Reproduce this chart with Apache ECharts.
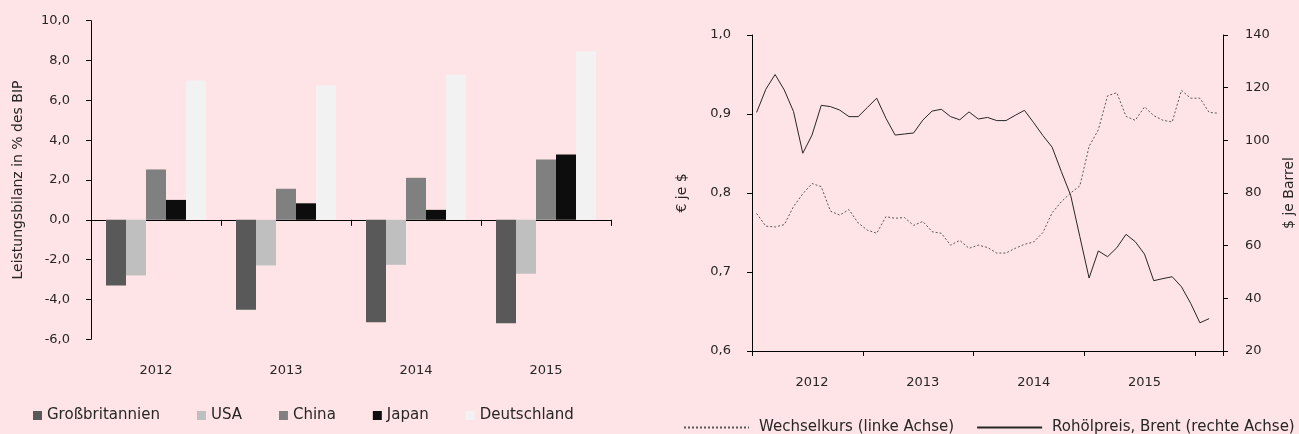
<!DOCTYPE html>
<html>
<head>
<meta charset="utf-8">
<script src="https://cdn.jsdelivr.net/npm/echarts@6/dist/echarts.min.js"></script>
<style>
  html, body { margin: 0; padding: 0; background: #fee4e6; }
  #chart { width: 1299px; height: 434px; }
</style>
</head>
<body>
<div id="chart"></div>
<script>
// left panel: current account balance in % of GDP
const barYears = ['2012', '2013', '2014', '2015']
const countries = ['Großbritannien', 'USA', 'China', 'Japan', 'Deutschland']
const gb = [-3.3, -4.52, -5.14, -5.19]
const usa = [-2.8, -2.29, -2.26, -2.71]
const china = [2.53, 1.56, 2.11, 3.03]
const japan = [1.0, 0.83, 0.5, 3.28]
const germany = [7.0, 6.74, 7.29, 8.47]
const barColors = ['#595959', '#bfbfbf', '#808080', '#0d0d0d', '#f2f2f2']

// right panel: monthly, Jan 2012 .. Mar 2016
const lineYears = ['2012', '2013', '2014', '2015', '2016']
const fxRate = [
  0.774, 0.758, 0.757, 0.760, 0.783, 0.799, 0.812, 0.808, 0.777, 0.772, 0.779, 0.762,
  0.753, 0.749, 0.770, 0.768, 0.769, 0.759, 0.764, 0.751, 0.749, 0.734, 0.740, 0.730,
  0.734, 0.731, 0.724, 0.724, 0.730, 0.735, 0.738, 0.750, 0.775, 0.789, 0.800, 0.809,
  0.859, 0.880, 0.923, 0.927, 0.897, 0.892, 0.909, 0.898, 0.892, 0.890, 0.930, 0.920,
  0.920, 0.902, 0.901
]
const brent = [
  110.6, 119.4, 125.0, 119.1, 110.9, 95.1, 102.0, 113.3, 112.8, 111.5, 109.0, 109.0,
  112.5, 116.0, 108.4, 102.0, 102.4, 102.8, 107.7, 111.1, 111.8, 109.0, 107.8, 110.8,
  108.1, 108.7, 107.5, 107.5, 109.5, 111.4, 106.7, 101.8, 97.4, 88.1, 79.2, 63.4,
  47.7, 58.0, 55.8, 59.2, 64.3, 61.5, 56.8, 46.7, 47.5, 48.2, 44.4, 38.1,
  30.7, 32.3
]
const yTicksLeft = [-6, -4, -2, 0, 2, 4, 6, 8, 10]

const months = []
lineYears.forEach(y => {
  for (let m = 1; m <= 12; m++) months.push(y + '-' + String(m).padStart(2, '0'))
})
months.length = fxRate.length

const txt = '#262626'
const font = 'DejaVu Sans'
const comma = v => v.toFixed(1).replace('.', ',')

const chart = echarts.init(document.getElementById('chart'))

const barSeries = [gb, usa, china, japan, germany].map((d, i) => ({
  name: countries[i],
  type: 'bar',
  xAxisIndex: 0,
  yAxisIndex: 0,
  data: d,
  barWidth: 20,
  barGap: '0%',
  itemStyle: { color: barColors[i] }
}))

chart.setOption({
  animation: false,
  backgroundColor: '#fee4e6',
  textStyle: { fontFamily: font, color: txt },
  grid: [
    { left: 91, top: 20.7, width: 520, height: 318.6 },
    { left: 752, top: 35, width: 471, height: 316 }
  ],
  legend: [
    {
      data: countries,
      left: 33, top: 408, padding: 0,
      icon: 'rect', itemWidth: 9, itemHeight: 9, itemGap: 37,
      textStyle: { fontSize: 15, color: txt, fontFamily: font }
    },
    {
      data: ['Wechselkurs (linke Achse)', 'Rohölpreis, Brent (rechte Achse)'],
      left: 683, top: 420, padding: 0,
      itemWidth: 65, itemHeight: 10, itemGap: 22,
      itemStyle: { opacity: 0 },
      textStyle: { fontSize: 15, color: txt, fontFamily: font, padding: [0, 0, 0, 5] }
    }
  ],
  xAxis: [
    {
      type: 'category', gridIndex: 0, data: barYears,
      axisLine: { onZero: true, lineStyle: { color: '#000', width: 1 } },
      axisTick: { show: true, length: 6, lineStyle: { color: '#000' } },
      axisLabel: { show: false }
    },
    {
      type: 'category', gridIndex: 0, data: barYears, position: 'bottom',
      axisLine: { show: false }, axisTick: { show: false },
      axisLabel: { color: txt, fontSize: 13, margin: 25, fontFamily: font }
    },
    {
      type: 'category', gridIndex: 1, data: months, boundaryGap: true,
      axisLine: { lineStyle: { color: '#000', width: 1 } },
      axisTick: { show: true, length: 5, lineStyle: { color: '#000' }, interval: i => i % 12 === 0 },
      axisLabel: {
        color: txt, fontSize: 13, margin: 25, fontFamily: font,
        interval: i => i % 12 === 6,
        formatter: v => v.slice(0, 4)
      }
    }
  ],
  yAxis: [
    {
      type: 'value', gridIndex: 0, min: yTicksLeft[0], max: yTicksLeft[yTicksLeft.length - 1], interval: 2,
      name: 'Leistungsbilanz in % des BIP', nameLocation: 'middle', nameGap: 66,
      nameTextStyle: { color: txt, fontSize: 14, fontFamily: font },
      axisLine: { show: true, lineStyle: { color: '#000' } },
      axisTick: { show: true, length: 5, lineStyle: { color: '#000' } },
      splitLine: { show: false },
      axisLabel: { color: txt, fontSize: 13, margin: 21, formatter: comma, fontFamily: font }
    },
    {
      type: 'value', gridIndex: 1, min: 0.6, max: 1.0, interval: 0.1,
      name: '€ je $', nameLocation: 'middle', nameGap: 63,
      nameTextStyle: { color: txt, fontSize: 14, fontFamily: font },
      axisLine: { show: true, lineStyle: { color: '#000' } },
      axisTick: { show: true, length: 5, lineStyle: { color: '#000' } },
      splitLine: { show: false },
      axisLabel: { color: txt, fontSize: 13, margin: 21, formatter: comma, fontFamily: font }
    },
    {
      type: 'value', gridIndex: 1, position: 'right', min: 20, max: 140, interval: 20,
      name: '$ je Barrel', nameLocation: 'middle', nameGap: 59,
      nameTextStyle: { color: txt, fontSize: 14, fontFamily: font },
      axisLine: { show: true, lineStyle: { color: '#000' } },
      axisTick: { show: true, length: 5, lineStyle: { color: '#000' } },
      splitLine: { show: false },
      axisLabel: { color: txt, fontSize: 13, margin: 22, fontFamily: font }
    }
  ],
  series: [
    ...barSeries,
    {
      name: 'Wechselkurs (linke Achse)',
      type: 'line', xAxisIndex: 2, yAxisIndex: 1,
      data: fxRate, symbol: 'none',
      lineStyle: { color: '#595959', width: 1, type: [2, 2] },
      itemStyle: { color: '#595959' }
    },
    {
      name: 'Rohölpreis, Brent (rechte Achse)',
      type: 'line', xAxisIndex: 2, yAxisIndex: 2,
      data: brent, symbol: 'none',
      lineStyle: { color: '#262626', width: 1 },
      itemStyle: { color: '#262626' }
    }
  ]
})
</script>
</body>
</html>
